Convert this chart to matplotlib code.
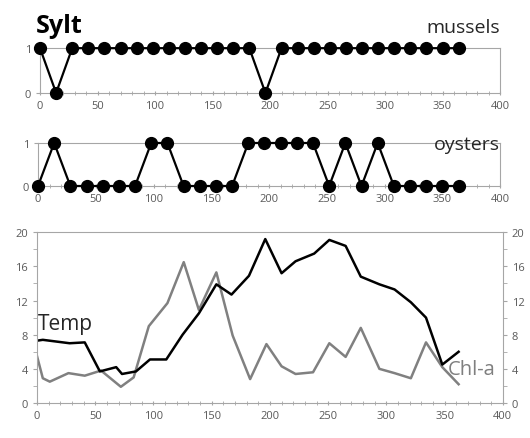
import matplotlib.pyplot as plt
from matplotlib.ticker import MultipleLocator

plt.rcParams['font.family'] = ['Open Sans', 'DejaVu Sans']

# sampling days of the bivalve surveys
survey_days = [0, 14, 28, 42, 56, 70, 84, 98, 112, 126, 140, 154, 168, 182,
               196, 210, 224, 238, 252, 266, 280, 294, 308, 322, 336, 350, 364]
mussels = [1, 0, 1, 1, 1, 1, 1, 1, 1, 1, 1, 1, 1, 1,
           0, 1, 1, 1, 1, 1, 1, 1, 1, 1, 1, 1, 1]
oysters = [0, 1, 0, 0, 0, 0, 0, 1, 1, 0, 0, 0, 0, 1,
           1, 1, 1, 1, 0, 1, 0, 1, 0, 0, 0, 0, 0]

temp_days = [0, 5, 28, 41, 54, 68, 73, 85, 97, 111, 125, 139, 154, 167,
             182, 196, 210, 222, 238, 251, 265, 278, 294, 307, 321, 334,
             348, 362]
temp = [7.3, 7.4, 7.0, 7.1, 3.7, 4.2, 3.4, 3.7, 5.1, 5.1, 8.0, 10.5, 13.9,
        12.7, 14.9, 19.2, 15.2, 16.6, 17.5, 19.1, 18.4, 14.8, 13.9, 13.3,
        11.8, 10.0, 4.5, 6.0]

chl_days = [0, 5, 11, 27, 41, 55, 72, 83, 96, 112, 126, 139, 154, 168,
            183, 197, 210, 222, 237, 251, 265, 278, 294, 307, 321, 334,
            348, 362]
chla = [5.5, 2.9, 2.5, 3.5, 3.2, 3.8, 1.9, 3.0, 9.0, 11.7, 16.5, 10.9, 15.3,
        7.9, 2.8, 6.9, 4.3, 3.4, 3.6, 7.0, 5.4, 8.8, 4.0, 3.5, 2.9, 7.1,
        4.2, 2.2]

GRAY = '#a6a6a6'
TICK = '#595959'


def style_axes(ax):
    for s in ax.spines.values():
        s.set_color(GRAY)
    ax.tick_params(colors=GRAY, labelcolor=TICK, labelsize=8,
                   length=3, width=0.8)
    ax.tick_params(which='minor', colors=GRAY, length=3, width=0.6)
    ax.set_xlim(0, 400)
    ax.xaxis.set_major_locator(MultipleLocator(50))
    ax.xaxis.set_minor_locator(MultipleLocator(10))


def presence(ax, y, label, label_y):
    ax.plot(survey_days, y, color='black', lw=1.6, marker='o', ms=8.5,
            clip_on=False, zorder=3)
    style_axes(ax)
    ax.set_ylim(0, 1)
    ax.set_yticks([0, 1])
    ax.tick_params(axis='x', which='both', direction='inout')
    ax.text(1.0, label_y, label, transform=ax.transAxes, ha='right',
            va='baseline', fontsize=14, color='#262626')


fig = plt.figure(figsize=(5.3, 4.39), dpi=100)

ax1 = fig.add_axes([0.0755, 0.786, 0.868, 0.102])
presence(ax1, mussels, 'mussels', 1.36)
fig.text(0.068, 0.925, 'Sylt', fontsize=18, fontweight='bold',
         color='black')

ax2 = fig.add_axes([0.0717, 0.574, 0.872, 0.098])
presence(ax2, oysters, 'oysters', 0.86)

ax3 = fig.add_axes([0.0698, 0.0797, 0.879, 0.389])
ax3.plot(chl_days, chla, color='#808080', lw=1.8)
ax3.plot(temp_days, temp, color='black', lw=1.8)
style_axes(ax3)
ax3.set_ylim(0, 20)
ax3.yaxis.set_major_locator(MultipleLocator(4))
ax3.yaxis.set_minor_locator(MultipleLocator(2))
ax3.tick_params(axis='x', which='both', direction='inout')
ax3.spines['right'].set_visible(False)
ax3.axhline(20, color=GRAY, lw=1.2)
ax3.text(1, 8.7, 'Temp', fontsize=15, color='#262626')
ax3.text(353, 3.4, 'Chl-a', fontsize=14.5, color='#7f7f7f')

ax4 = ax3.twinx()
ax4.set_ylim(0, 20)
ax4.yaxis.set_major_locator(MultipleLocator(4))
ax4.yaxis.set_minor_locator(MultipleLocator(2))
for s in ax4.spines.values():
    s.set_visible(False)
ax4.spines['right'].set_visible(True)
ax4.spines['right'].set_color(GRAY)
ax4.tick_params(colors=GRAY, labelcolor=TICK, labelsize=8,
                length=3, width=0.8)
ax4.tick_params(which='minor', colors=GRAY, length=3, width=0.6)

fig.savefig('out.png', dpi=100)
